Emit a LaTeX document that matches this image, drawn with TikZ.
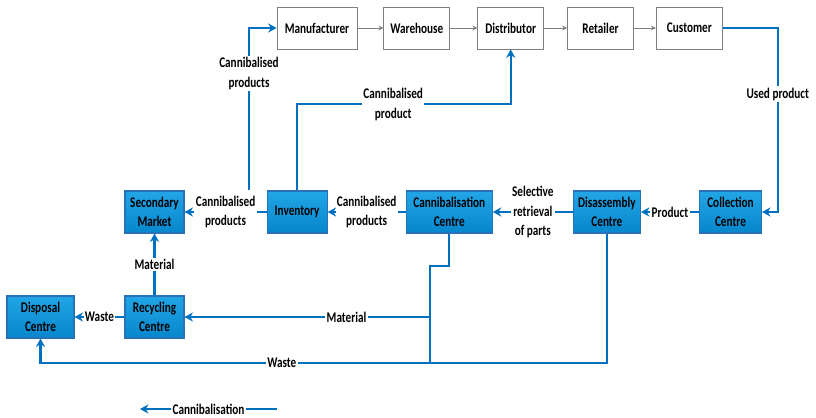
\documentclass[tikz,border=0pt]{standalone}
\usepackage{xcolor}
\usepackage{tikz}
\usepackage{fontspec}
\setmainfont{Carlito}[FakeStretch=0.76]
\usetikzlibrary{arrows.meta, positioning}
\definecolor{chaingray}{HTML}{7F7F7F}
\definecolor{flowblue}{HTML}{0070C0}
\definecolor{boxedge}{HTML}{2A72B8}
\definecolor{boxtop}{HTML}{22A6E6}
\definecolor{boxbottom}{HTML}{0686CC}
\tikzstyle{chainbox} = [rectangle, minimum width=1.65cm, minimum height=1.05cm, inner sep=2pt, text centered, draw=chaingray, fill=white, line width=0.6pt]
\tikzstyle{centrebox} = [rectangle, minimum height=1.05cm, inner sep=2pt, align=center, draw=boxedge, line width=0.8pt, top color=boxtop, bottom color=boxbottom]
\tikzstyle{chainarrow} = [line width=0.6pt, draw=chaingray, -{Stealth[length=3.5pt,width=3.5pt]}]
\tikzstyle{flowline} = [line width=1.5pt, draw=flowblue]
\tikzstyle{flow} = [flowline, -{Stealth[length=6pt,width=6.5pt]}]
\tikzstyle{lbl} = [fill=white, inner sep=1pt, align=center]

\begin{document}
\begin{tikzpicture}[every node/.style={font=\fontsize{10.5}{14}\selectfont\bfseries}]
    \useasboundingbox (0,0) rectangle (20.4,-10.45);

    % forward chain
    \node[chainbox, minimum width=2cm] (manu) at (7.925,-0.7) {Manufacturer};
    \node[chainbox, right=0.65cm of manu] (ware) {Warehouse};
    \node[chainbox, right=0.675cm of ware] (dist) {Distributor};
    \node[chainbox, right=0.575cm of dist] (ret) {Retailer};
    \node[chainbox, right=0.55cm of ret] (cust) {Customer};

    % reverse chain
    \node[centrebox, minimum width=1.475cm] (sec) at (3.8625,-5.3) {Secondary\\Market};
    \node[centrebox, minimum width=1.5cm, right=2.05cm of sec] (inv) {Inventory};
    \node[centrebox, minimum width=2.15cm, right=1.95cm of inv] (cann) {Cannibalisation\\Centre};
    \node[centrebox, minimum width=1.675cm, right=2cm of cann] (dis) {Disassembly\\Centre};
    \node[centrebox, minimum width=1.55cm, right=1.45cm of dis] (coll) {Collection\\Centre};

    \node[centrebox, minimum width=1.675cm] (disp) at (1.0125,-7.925) {Disposal\\Centre};
    \node[centrebox, minimum width=1.475cm] (rec) at (3.8625,-7.925) {Recycling\\Centre};

    \coordinate (split) at (6.225,-4.75);
    \coordinate (mjoin) at (10.75,-7.925);
    \coordinate (wjoin) at (10.75,-9.05);
    \coordinate (legR) at (6.925,-10.225);
    \coordinate (legL) at (3.5,-10.225);

    \draw[chainarrow] (manu) -- (ware);
    \draw[chainarrow] (ware) -- (dist);
    \draw[chainarrow] (dist) -- (ret);
    \draw[chainarrow] (ret) -- (cust);

    \draw[flow] (cust.east) -- ++(1.375,0) |- node[lbl, pos=0.18] {Used product} (coll.east);
    \draw[flow] (coll) -- node[lbl] {Product} (dis);
    \draw[flow] (dis) -- node[lbl] {Selective\\retrieval\\of parts} (cann);
    \draw[flow] (cann) -- node[lbl] {Cannibalised\\products} (inv);
    \draw[flow] (inv) -- node[lbl] {Cannibalised\\products} (sec);
    \draw[flow] (split) |- node[lbl, pos=0.36] {Cannibalised\\products} (manu.west);
    \draw[flow] (inv.north) |- node[lbl, pos=0.725] {Cannibalised\\product} ([yshift=-1.375cm]dist.south) -- (dist.south);

    \draw[flowline] (cann.south) -- ++(0,-0.8) -| (wjoin);
    \draw[flow] (mjoin) -- node[lbl, pos=0.34] {Material} (rec.east);
    \draw[flow] (dis.south) |- node[lbl, pos=0.787] {Waste} ([yshift=-0.6cm]disp.south) -- (disp.south);
    \draw[flow] (rec) -- node[lbl] {Waste} (disp);
    \draw[flow] (rec) -- node[lbl] {Material} (sec);

    \draw[flow] (legR) -- node[lbl] {Cannibalisation} (legL);
\end{tikzpicture}
\end{document}
